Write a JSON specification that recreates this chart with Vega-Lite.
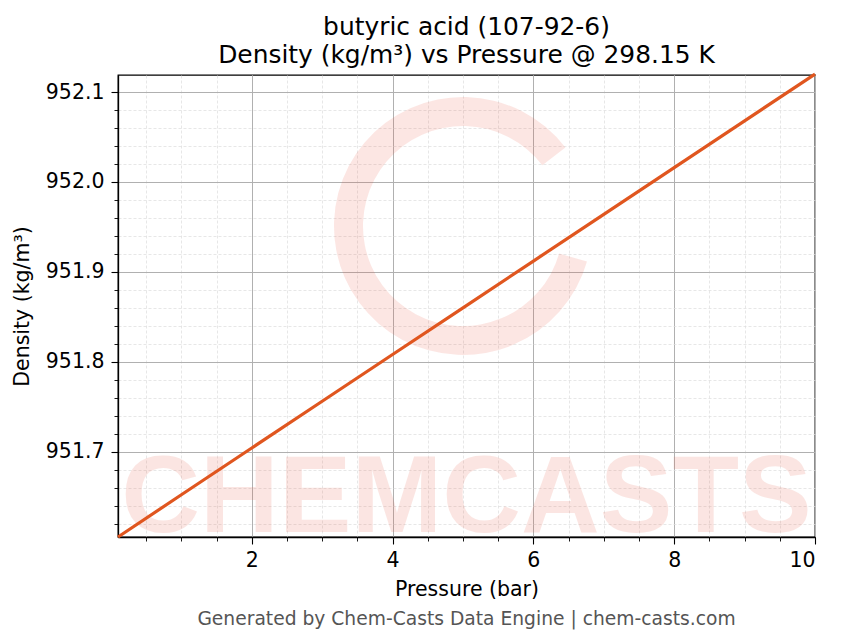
{
  "$schema": "https://vega.github.io/schema/vega-lite/v6.json",
  "autosize": {"type": "pad"},
  "padding": {"left": 11, "top": 14, "right": 15, "bottom": 16},
  "background": "white",
  "bounds": "flush",
  "spacing": 72,
  "config": {
    "font": "DejaVu Sans",
    "view": {"stroke": "#000", "strokeWidth": 1.3},
    "axis": {"labelFont": "DejaVu Sans", "titleFont": "DejaVu Sans", "labelColor": "#000", "titleColor": "#000", "titleFontWeight": "normal"}
  },
  "vconcat": [
    {
      "width": 697,
      "height": 462,
      "title": {
        "text": ["butyric acid (107-92-6)", "Density (kg/m³) vs Pressure @ 298.15 K"],
        "font": "DejaVu Sans",
        "fontSize": 24.9,
        "fontWeight": "normal",
        "color": "#000",
        "anchor": "middle",
        "frame": "group",
        "lineHeight": 28,
        "offset": 0
      },
      "data": {"values": [
        {"p": 0.1, "rho": 951.605},
        {"p": 1, "rho": 951.652},
        {"p": 2, "rho": 951.704},
        {"p": 3, "rho": 951.756},
        {"p": 4, "rho": 951.808},
        {"p": 5, "rho": 951.860},
        {"p": 6, "rho": 951.912},
        {"p": 7, "rho": 951.964},
        {"p": 8, "rho": 952.016},
        {"p": 9, "rho": 952.068},
        {"p": 10, "rho": 952.120}
      ]},
      "resolve": {"axis": {"x": "independent", "y": "independent"}},
      "layer": [
        {
          "data": {"values": [{"px": 5.0, "dy": 951.951}]},
          "mark": {"type": "arc", "theta": 1.85, "theta2": 7.2, "radius": 129, "radius2": 100, "color": "#e8503a", "opacity": 0.14},
          "encoding": {
            "x": {"field": "px", "type": "quantitative", "axis": null},
            "y": {"field": "dy", "type": "quantitative", "axis": null}
          }
        },
        {
          "data": {"values": [{"label": "CHEMCASTS", "px": 5.05, "dy": 951.611}]},
          "mark": {"type": "text", "font": "Liberation Sans", "fontWeight": "bold", "fontSize": 109, "color": "#e8503a", "opacity": 0.14, "align": "center", "baseline": "alphabetic"},
          "encoding": {
            "text": {"field": "label", "type": "nominal"},
            "x": {"field": "px", "type": "quantitative",
              "axis": {"orient": "bottom", "values": [0.5,1,1.5,2,2.5,3,3.5,4,4.5,5,5.5,6,6.5,7,7.5,8,8.5,9,9.5,10], "labels": false, "title": null, "domain": false, "tickSize": 4, "tickColor": "#000", "tickWidth": 0.9, "grid": true, "gridColor": "#dcdcdc", "gridDash": [3, 2], "gridWidth": 0.7}},
            "y": {"field": "dy", "type": "quantitative",
              "axis": {"orient": "left", "values": [951.62,951.64,951.66,951.68,951.7,951.72,951.74,951.76,951.78,951.8,951.82,951.84,951.86,951.88,951.9,951.92,951.94,951.96,951.98,952.0,952.02,952.04,952.06,952.08,952.1], "labels": false, "title": null, "domain": false, "tickSize": 4, "tickColor": "#000", "tickWidth": 0.9, "grid": true, "gridColor": "#dcdcdc", "gridDash": [3, 2], "gridWidth": 0.7}}
          }
        },
        {
          "mark": {"type": "line", "color": "#e0561f", "strokeWidth": 3.2},
          "encoding": {
            "x": {"field": "p", "type": "quantitative",
              "scale": {"domain": [0.1, 10], "nice": false, "zero": false},
              "axis": {"orient": "bottom", "values": [2,4,6,8,10], "title": "Pressure (bar)", "titleFontSize": 20.5, "labelFontSize": 20.5, "labelPadding": 6, "titlePadding": 9, "tickSize": 7, "tickColor": "#000", "tickWidth": 1.1, "domainColor": "#000", "domainWidth": 1.3, "grid": true, "gridColor": "#b0b0b0", "gridWidth": 1}},
            "y": {"field": "rho", "type": "quantitative",
              "scale": {"domain": [951.605, 952.119], "nice": false, "zero": false},
              "axis": {"orient": "left", "values": [951.7, 951.8, 951.9, 952.0, 952.1], "format": ".1f", "title": "Density (kg/m³)", "titleFontSize": 20.5, "labelFontSize": 20.5, "labelPadding": 7, "titlePadding": 13, "tickSize": 7, "tickColor": "#000", "tickWidth": 1.1, "domainColor": "#000", "domainWidth": 1.3, "grid": true, "gridColor": "#b0b0b0", "gridWidth": 1}}
          }
        }
      ]
    },
    {
      "width": 697,
      "height": 20,
      "view": {"stroke": null},
      "data": {"values": [{"note": "Generated by Chem-Casts Data Engine | chem-casts.com"}]},
      "mark": {"type": "text", "font": "DejaVu Sans", "fontSize": 18.7, "color": "#555555"},
      "encoding": {"text": {"field": "note", "type": "nominal"}}
    }
  ]
}
